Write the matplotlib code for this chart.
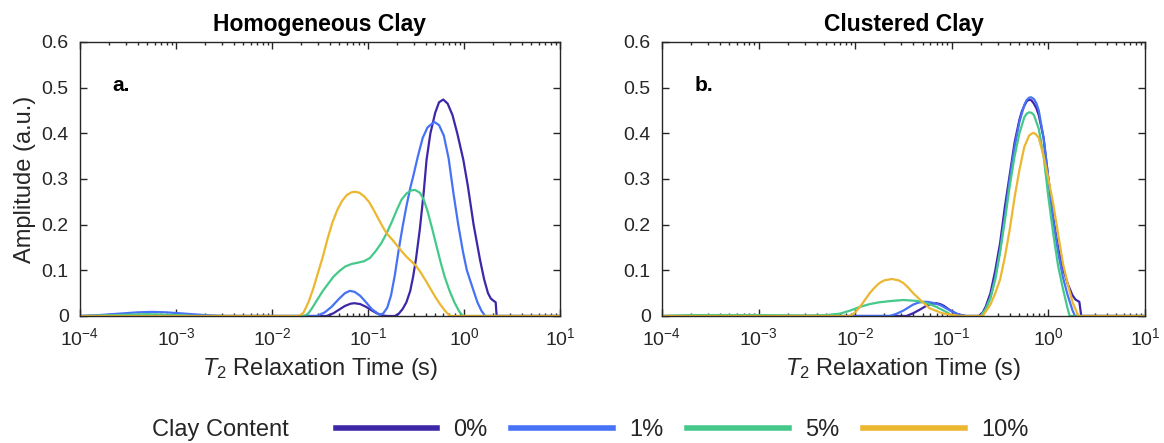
import numpy as np
import matplotlib.pyplot as plt
from matplotlib.ticker import FuncFormatter, LogLocator, NullFormatter

plt.rcParams['font.family'] = ['Liberation Sans', 'DejaVu Sans']
plt.rcParams['mathtext.fontset'] = 'custom'
plt.rcParams['mathtext.rm'] = 'Liberation Sans'
plt.rcParams['mathtext.it'] = 'Liberation Sans:italic'

# clay content labels and colours
clay_labels = ['0%', '1%', '5%', '10%']
clay_colors = ['#3e26a8', '#4672f6', '#45c98a', '#ecb730']

# panel a. homogeneous clay, log10(T2) / amplitude pairs
hom_0_logt = [-4, -1.43, -1.36, -1.30, -1.24, -1.18, -1.14, -1.08, -1.02, -0.96, -0.90, -0.84,
              -0.80, -0.72, -0.68, -0.64, -0.60, -0.56, -0.53, -0.50, -0.46, -0.42, -0.39,
              -0.35, -0.30, -0.26, -0.216, -0.17, -0.12, -0.07, -0.007, 0.04, 0.10, 0.167,
              0.21, 0.25, 0.28, 0.31, 0.33, 0.34, 1]
hom_0_amp = [0, 0, 0.006, 0.014, 0.022, 0.027, 0.028, 0.026, 0.020, 0.012, 0.005, 0.001,
             0, 0, 0.005, 0.015, 0.030, 0.055, 0.086, 0.125, 0.19, 0.27, 0.342,
             0.40, 0.445, 0.468, 0.474, 0.465, 0.44, 0.40, 0.342, 0.285, 0.20, 0.123,
             0.08, 0.05, 0.038, 0.033, 0.03, 0, 0]

hom_1_logt = [-4, -3.8, -3.6, -3.4, -3.25, -3.1, -2.9, -2.7, -2.5, -1.53, -1.45, -1.38, -1.30,
              -1.24, -1.19, -1.14, -1.08, -1.02, -0.96, -0.90, -0.875, -0.84, -0.80, -0.76,
              -0.72, -0.68, -0.64, -0.60, -0.56, -0.53, -0.48, -0.43, -0.38, -0.31, -0.26,
              -0.21, -0.16, -0.11, -0.06, -0.01, 0.03, 0.0625, 0.10, 0.14, 0.18, 0.22, 1]
hom_1_amp = [0, 0.002, 0.005, 0.008, 0.009, 0.008, 0.005, 0.002, 0, 0, 0.008, 0.02, 0.038,
             0.05, 0.055, 0.053, 0.044, 0.03, 0.015, 0.006, 0.002, 0.006, 0.018, 0.045,
             0.09, 0.145, 0.195, 0.24, 0.28, 0.305, 0.35, 0.39, 0.413, 0.425, 0.418,
             0.395, 0.345, 0.269, 0.20, 0.14, 0.10, 0.079, 0.055, 0.03, 0.012, 0, 0]

hom_5_logt = [-4, -3.6, -3.3, -3.0, -2.8, -1.66, -1.62, -1.58, -1.53, -1.47, -1.41, -1.36,
              -1.30, -1.24, -1.17, -1.10, -1.04, -0.98, -0.92, -0.86, -0.806, -0.75, -0.70,
              -0.65, -0.60, -0.55, -0.51, -0.46, -0.42, -0.38, -0.33, -0.285, -0.24, -0.20,
              -0.15, -0.10, -0.05, -0.01, 1]
hom_5_amp = [0, 0.002, 0.004, 0.002, 0, 0, 0.006, 0.018, 0.035, 0.055, 0.072, 0.086,
             0.098, 0.108, 0.114, 0.117, 0.12, 0.127, 0.142, 0.16, 0.181, 0.207, 0.232,
             0.255, 0.268, 0.275, 0.276, 0.27, 0.255, 0.23, 0.19, 0.152, 0.115, 0.085,
             0.055, 0.03, 0.01, 0, 0]

hom_10_logt = [-4, -1.71, -1.67, -1.62, -1.57, -1.52, -1.47, -1.42, -1.37, -1.32, -1.27, -1.22,
               -1.17, -1.135, -1.09, -1.04, -0.99, -0.94, -0.89, -0.84, -0.806, -0.75, -0.70,
               -0.65, -0.60, -0.55, -0.50, -0.45, -0.40, -0.35, -0.30, -0.25, -0.20, -0.146, 1]
hom_10_amp = [0, 0, 0.008, 0.03, 0.06, 0.095, 0.13, 0.17, 0.205, 0.232, 0.252, 0.265,
              0.271, 0.272, 0.27, 0.262, 0.25, 0.232, 0.212, 0.193, 0.181, 0.168, 0.155,
              0.142, 0.13, 0.12, 0.11, 0.095, 0.078, 0.06, 0.042, 0.026, 0.012, 0, 0]

# panel b. clustered clay
clu_0_logt = [-4, -1.47, -1.40, -1.33, -1.25, -1.20, -1.16, -1.12, -1.08, -1.02, -0.95, -0.90,
              -0.85, -0.72, -0.68, -0.65, -0.60, -0.55, -0.50, -0.45, -0.40, -0.35, -0.30,
              -0.275, -0.25, -0.225, -0.20, -0.175, -0.15, -0.125, -0.10, -0.05, 0.0, 0.05,
              0.10, 0.15, 0.20, 0.25, 0.28, 0.32, 0.34, 1]
clu_0_amp = [0, 0, 0.006, 0.014, 0.024, 0.027, 0.028, 0.026, 0.022, 0.013, 0.005, 0.002,
             0, 0, 0.008, 0.02, 0.05, 0.10, 0.16, 0.24, 0.31, 0.38, 0.43,
             0.448, 0.46, 0.47, 0.474, 0.472, 0.465, 0.455, 0.44, 0.39, 0.30, 0.215,
             0.15, 0.105, 0.07, 0.045, 0.036, 0.031, 0, 0]

clu_1_logt = [-4, -1.64, -1.57, -1.50, -1.40, -1.35, -1.30, -1.25, -1.20, -1.12, -1.06, -1.0,
              -0.94, -0.88, -0.70, -0.65, -0.60, -0.55, -0.50, -0.45, -0.40, -0.35, -0.30,
              -0.25, -0.225, -0.20, -0.18, -0.15, -0.125, -0.10, -0.05, 0.0, 0.05, 0.10,
              0.15, 0.20, 0.25, 0.275, 1]
clu_1_amp = [0, 0, 0.005, 0.012, 0.025, 0.029, 0.031, 0.031, 0.029, 0.024, 0.017, 0.01,
             0.004, 0, 0, 0.015, 0.04, 0.085, 0.145, 0.22, 0.30, 0.37, 0.425,
             0.462, 0.473, 0.478, 0.479, 0.475, 0.466, 0.45, 0.39, 0.30, 0.21, 0.14,
             0.085, 0.045, 0.012, 0, 0]

clu_5_logt = [-4, -3.7, -3.0, -2.5, -2.3, -2.16, -2.05, -1.95, -1.85, -1.75, -1.62, -1.5,
              -1.36, -1.26, -1.16, -1.05, -0.99, -0.70, -0.65, -0.60, -0.55, -0.50, -0.45,
              -0.40, -0.35, -0.30, -0.25, -0.225, -0.20, -0.175, -0.15, -0.10, -0.05, 0.0,
              0.05, 0.10, 0.15, 0.20, 0.22, 1]
clu_5_amp = [0, 0.002, 0.002, 0.001, 0.002, 0.005, 0.012, 0.02, 0.026, 0.03, 0.033, 0.035,
             0.033, 0.028, 0.02, 0.008, 0, 0, 0.015, 0.04, 0.08, 0.14, 0.21,
             0.285, 0.35, 0.40, 0.435, 0.443, 0.446, 0.445, 0.44, 0.41, 0.35, 0.26,
             0.18, 0.11, 0.06, 0.015, 0, 0]

clu_10_logt = [-4, -2.05, -2.0, -1.95, -1.90, -1.85, -1.80, -1.75, -1.70, -1.62, -1.55, -1.5,
               -1.45, -1.4, -1.35, -1.3, -1.23, -1.1, -0.915, -0.68, -0.6, -0.55, -0.5, -0.45,
               -0.4, -0.35, -0.3, -0.25, -0.2, -0.175, -0.156, -0.13, -0.1, -0.05, 0.0, 0.05,
               0.1, 0.15, 0.2, 0.25, 0.31, 1]
clu_10_amp = [0, 0, 0.008, 0.02, 0.035, 0.05, 0.062, 0.072, 0.078, 0.081, 0.078, 0.072,
              0.062, 0.05, 0.04, 0.03, 0.017, 0.006, 0, 0, 0.025, 0.05, 0.08, 0.13,
              0.19, 0.26, 0.32, 0.37, 0.395, 0.399, 0.401, 0.398, 0.39, 0.35, 0.30, 0.245,
              0.18, 0.115, 0.07, 0.03, 0, 0]

panels = [
    ('Homogeneous Clay', 'a.', [(hom_0_logt, hom_0_amp), (hom_1_logt, hom_1_amp),
                                (hom_5_logt, hom_5_amp), (hom_10_logt, hom_10_amp)]),
    ('Clustered Clay', 'b.', [(clu_0_logt, clu_0_amp), (clu_1_logt, clu_1_amp),
                              (clu_5_logt, clu_5_amp), (clu_10_logt, clu_10_amp)]),
]

fig = plt.figure(figsize=(11.64, 4.43), dpi=100)
axes = [fig.add_axes([0.0687, 0.2867, 0.4124, 0.6185]),
        fig.add_axes([0.5687, 0.2867, 0.4150, 0.6185])]

dark = '#262626'
lines = []
for ax, (title, tag, series) in zip(axes, panels):
    lines = []
    for (logt, amp), color, label in zip(series, clay_colors, clay_labels):
        ln, = ax.plot(10.0 ** np.array(logt), amp, color=color, lw=1.6, label=label,
                      solid_joinstyle='round')
        lines.append(ln)
    ax.set_xscale('log')
    ax.set_xlim(1e-4, 1e1)
    ax.set_ylim(0, 0.6)
    ax.set_yticks(np.arange(0, 0.61, 0.1))
    ax.yaxis.set_major_formatter(FuncFormatter(lambda v, p: f'{v:g}'))
    ax.xaxis.set_major_locator(LogLocator(base=10, numticks=10))
    ax.xaxis.set_minor_locator(LogLocator(base=10, subs=np.arange(2, 10), numticks=20))
    ax.xaxis.set_minor_formatter(NullFormatter())
    ax.tick_params(which='both', direction='in', top=True, right=True, colors=dark,
                   labelsize=14, width=1.0)
    ax.tick_params(which='major', length=5, pad=8)
    ax.tick_params(which='minor', length=2.5)
    for s in ax.spines.values():
        s.set_color(dark)
        s.set_linewidth(1.0)
    ax.set_title(title, fontsize=16.5, fontweight='bold', pad=8)
    ax.text(0.067, 0.82, tag, transform=ax.transAxes, fontsize=15, fontweight='bold')
    ax.set_xlabel('$T_2$ Relaxation Time (s)', fontsize=17, color=dark, labelpad=5)

axes[0].set_ylabel('Amplitude (a.u.)', fontsize=17, color=dark, labelpad=4)

fig.text(0.189, 0.029, 'Clay Content', fontsize=17, color=dark, ha='center', va='center')
leg = fig.legend(handles=lines, labels=clay_labels, loc='center', ncol=4,
                 bbox_to_anchor=(0.586, 0.029), frameon=False, fontsize=17,
                 handlelength=4.3, handletextpad=0.7, columnspacing=1.0)
for h in leg.legend_handles:
    h.set_linewidth(4)
for t in leg.get_texts():
    t.set_color(dark)

fig.savefig('out.png', dpi=100)
